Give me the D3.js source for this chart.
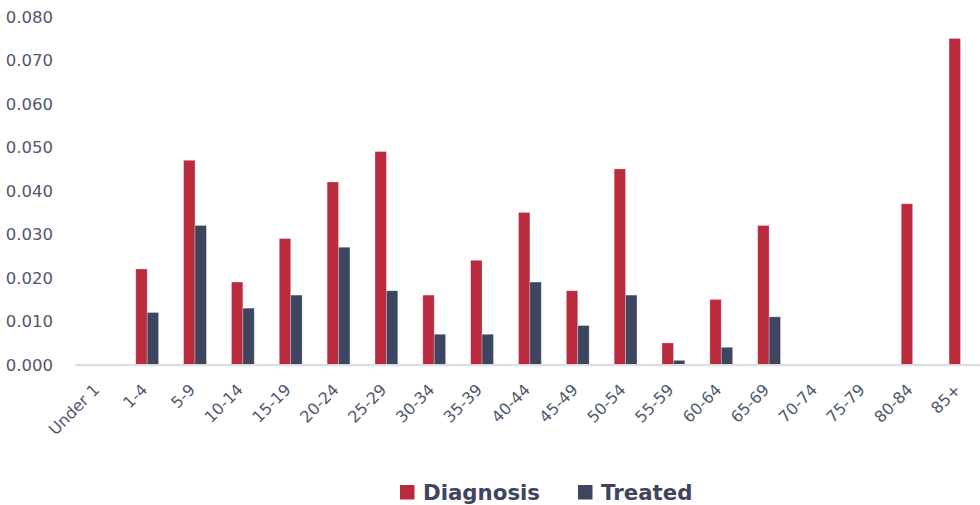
<!DOCTYPE html>
<html>
<head>
<meta charset="utf-8">
<script src="https://cdn.jsdelivr.net/npm/d3@7/dist/d3.min.js"></script>
<style>
  html, body { margin: 0; padding: 0; background: #fff; }
  svg { display: block; }
</style>
</head>
<body>
<svg id="chart" width="980" height="505"></svg>
<script>
const categories = ["Under 1","1-4","5-9","10-14","15-19","20-24","25-29","30-34","35-39","40-44","45-49","50-54","55-59","60-64","65-69","70-74","75-79","80-84","85+"];
const diagnosis = [0,0.022,0.047,0.019,0.029,0.042,0.049,0.016,0.024,0.035,0.017,0.045,0.005,0.015,0.032,0,0,0.037,0.075];
const treated   = [0,0.012,0.032,0.013,0.016,0.027,0.017,0.007,0.007,0.019,0.009,0.016,0.001,0.004,0.011,0,0,0,0];
const seriesNames = ["Diagnosis","Treated"];
const seriesColors = ["#b92b3d","#3d465e"];
const yTicks = [0,0.01,0.02,0.03,0.04,0.05,0.06,0.07,0.08];

const FONT = "'DejaVu Sans', sans-serif";
const textColor = "#50586d";

const svg = d3.select("#chart");
const x = d3.scaleBand().domain(categories).range([75.4, 984.4]).paddingInner(0).paddingOuter(0);
const xs = d3.scaleBand().domain(seriesNames).range([0, x.bandwidth()]).paddingInner(0).paddingOuter(1.098);
const y = d3.scaleLinear().domain([0, 0.08]).range([364.7, 16.7]);

const data = categories.map((c, i) => ({cat: c, vals: [diagnosis[i], treated[i]]}));

// bars
const groups = svg.append("g").selectAll("g").data(data).join("g")
  .attr("transform", d => `translate(${x(d.cat)},0)`);
groups.selectAll("rect").data(d => d.vals.map((v, j) => ({v, s: seriesNames[j], c: seriesColors[j]})))
  .join("rect")
  .filter(d => d.v > 0)
  .attr("x", d => xs(d.s))
  .attr("width", xs.bandwidth())
  .attr("y", d => y(d.v))
  .attr("height", d => y(0) - y(d.v))
  .attr("fill", d => d.c)
  .attr("stroke", "rgba(255,255,255,0.35)")
  .attr("stroke-width", 0.8);

// x axis
const xAxis = d3.axisBottom(x).tickSize(0).tickPadding(0);
const xg = svg.append("g").attr("transform", `translate(0,${y(0)})`).call(xAxis);
xg.select(".domain").attr("stroke", "#d9dde6").attr("stroke-width", 2.2).attr("d", `M75.4,0.5H980`);
xg.selectAll(".tick text")
  .attr("font-family", FONT)
  .attr("font-size", 16)
  .attr("fill", textColor)
  .attr("text-anchor", "end")
  .attr("dy", null)
  .attr("y", 0)
  .attr("transform", "translate(-2,23) rotate(-45)")
  .attr("dominant-baseline", "middle");

// y axis
const yAxis = d3.axisLeft(y).tickValues(yTicks).tickFormat(d3.format(".3f")).tickSize(0).tickPadding(0);
const yg = svg.append("g").attr("transform", "translate(53,0)").call(yAxis);
yg.select(".domain").remove();
yg.selectAll(".tick text")
  .attr("font-family", FONT)
  .attr("font-size", 16.5)
  .attr("fill", textColor)
  .attr("dy", "0.35em");

// legend
const legend = svg.append("g");
const legendX = [400, 578];
seriesNames.forEach((s, i) => {
  legend.append("rect").attr("x", legendX[i]).attr("y", 485).attr("width", 14.5).attr("height", 14.5).attr("fill", seriesColors[i]);
  legend.append("text").attr("x", legendX[i] + 23).attr("y", 499.5)
    .attr("font-family", FONT).attr("font-weight", "bold").attr("font-size", 21.3)
    .attr("fill", "#3d4560").text(s);
});
</script>
</body>
</html>
